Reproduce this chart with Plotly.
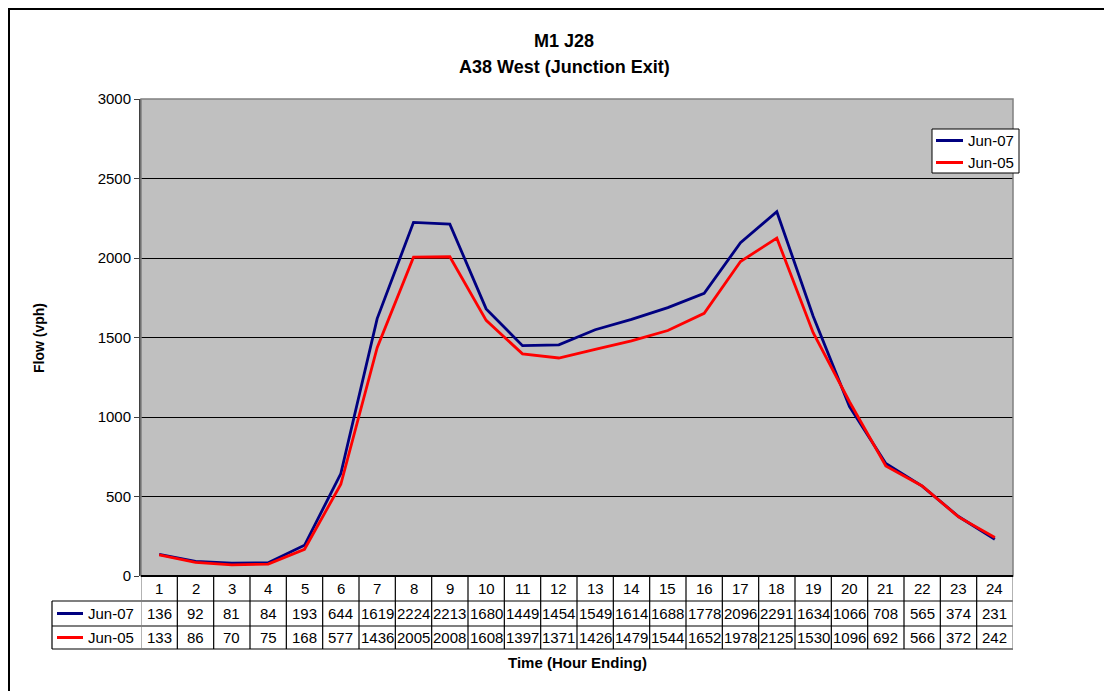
import plotly.graph_objects as go

hours = list(range(1, 25))
jun07 = [136, 92, 81, 84, 193, 644, 1619, 2224, 2213, 1680, 1449, 1454,
         1549, 1614, 1688, 1778, 2096, 2291, 1634, 1066, 708, 565, 374, 231]
jun05 = [133, 86, 70, 75, 168, 577, 1436, 2005, 2008, 1608, 1397, 1371,
         1426, 1479, 1544, 1652, 1978, 2125, 1530, 1096, 692, 566, 372, 242]
series_names = ["Jun-07", "Jun-05"]
series_colors = ["#000080", "#FF0000"]
series_values = [jun07, jun05]

OFF = 8  # page body margin
W, H = 1104, 683
L, R, T, B = 141 - OFF, 1013 - OFF, 99 - OFF, 576 - OFF
PW, PH = R - L, B - T


def px(x):  # page pixel -> paper x
    return (x - OFF - L) / PW


def py(y):  # page pixel -> paper y
    return (B - (y - OFF)) / PH


FONT = "Liberation Sans, Arial, sans-serif"

fig = go.Figure()
for name, col, vals in zip(series_names, series_colors, series_values):
    fig.add_trace(go.Scatter(x=hours, y=vals, mode="lines", name=name,
                             line=dict(color=col, width=2.8), showlegend=False))

shapes = []
annotations = []

# outer chart border
shapes.append(dict(type="line", xref="paper", yref="paper", x0=px(7), x1=px(1120),
                   y0=py(8.5), y1=py(8.5), line=dict(color="black", width=3)))
shapes.append(dict(type="line", xref="paper", yref="paper", x0=px(8.5), x1=px(8.5),
                   y0=py(7), y1=py(700), line=dict(color="black", width=3)))

# plot area border (grey)
shapes.append(dict(type="rect", xref="paper", yref="paper", x0=0, x1=1, y0=0, y1=1,
                   line=dict(color="#808080", width=1.5), layer="above"))

# data table
row_lines = [601, 626, 649]
for yl in row_lines:
    shapes.append(dict(type="line", xref="paper", yref="paper", x0=px(52), x1=1,
                       y0=py(yl), y1=py(yl), line=dict(color="black", width=1.2)))
shapes.append(dict(type="line", xref="paper", yref="paper", x0=px(52), x1=px(52),
                   y0=py(601), y1=py(649), line=dict(color="black", width=1.2)))
for i in range(len(hours) + 1):
    xv = hours[0] - 0.5 + i
    c = "#808080" if i in (0, len(hours)) else "black"
    shapes.append(dict(type="line", xref="x", yref="paper", x0=xv, x1=xv,
                       y0=0, y1=py(649), line=dict(color=c, width=1.2)))

# x-axis zero line
shapes.append(dict(type="line", xref="paper", yref="paper", x0=0, x1=1, y0=0, y1=0,
                   line=dict(color="black", width=2), layer="above"))

TXT = dict(size=15, color="black", family=FONT)
row_centers = [588.5, 613.5, 637.5]
for h in hours:
    annotations.append(dict(x=h, y=py(row_centers[0]), xref="x", yref="paper",
                            text=str(h), showarrow=False, xanchor="center",
                            yanchor="middle", font=TXT))
for r, (name, col, vals) in enumerate(zip(series_names, series_colors, series_values)):
    yc = py(row_centers[r + 1])
    for h, v in zip(hours, vals):
        annotations.append(dict(x=h, y=yc, xref="x", yref="paper", text=str(v),
                                showarrow=False, xanchor="center", yanchor="middle",
                                font=TXT))
    shapes.append(dict(type="line", xref="paper", yref="paper", x0=px(57), x1=px(83),
                       y0=yc, y1=yc, line=dict(color=col, width=3)))
    annotations.append(dict(x=px(86), y=yc, xref="paper", yref="paper", text=name,
                            showarrow=False, xanchor="left", yanchor="middle",
                            font=TXT))

# legend box (drawn to match the original's compact legend)
shapes.append(dict(type="rect", xref="paper", yref="paper", x0=px(932), x1=px(1019),
                   y0=py(173), y1=py(129), fillcolor="white",
                   line=dict(color="black", width=1), layer="above"))
legend_rows = [140.5, 162.5]
for name, col, yr in zip(series_names, series_colors, legend_rows):
    shapes.append(dict(type="line", xref="paper", yref="paper", x0=px(936), x1=px(963),
                       y0=py(yr), y1=py(yr), line=dict(color=col, width=3),
                       layer="above"))
    annotations.append(dict(x=px(966), y=py(yr), xref="paper", yref="paper",
                            text=name, showarrow=False, xanchor="left",
                            yanchor="middle", font=TXT))

# titles
TTL = dict(size=18, color="black", family=FONT)
annotations.append(dict(x=px(564), y=py(41), xref="paper", yref="paper",
                        text="<b>M1 J28</b>", showarrow=False, xanchor="center",
                        yanchor="middle", font=TTL))
annotations.append(dict(x=px(564), y=py(67), xref="paper", yref="paper",
                        text="<b>A38 West (Junction Exit)</b>", showarrow=False,
                        xanchor="center", yanchor="middle", font=TTL))
annotations.append(dict(x=0.5, y=py(662), xref="paper", yref="paper",
                        text="<b>Time (Hour Ending)</b>", showarrow=False,
                        xanchor="center", yanchor="middle",
                        font=dict(size=15, color="black", family=FONT)))
annotations.append(dict(x=px(39), y=py(338), xref="paper", yref="paper",
                        text="<b>Flow (vph)</b>", showarrow=False, textangle=-90,
                        xanchor="center", yanchor="middle",
                        font=dict(size=14, color="black", family=FONT)))

fig.update_layout(
    width=W, height=H,
    margin=dict(l=L, r=W - R, t=T, b=H - B, pad=0),
    paper_bgcolor="white", plot_bgcolor="#C0C0C0",
    font=dict(family=FONT, size=15, color="black"),
    showlegend=False,
    xaxis=dict(range=[0.5, 24.5], showticklabels=False, showgrid=False,
               zeroline=False, ticks="", showline=False, fixedrange=True),
    yaxis=dict(range=[0, 3000], dtick=500, tick0=0, showgrid=True,
               gridcolor="black", gridwidth=1, zeroline=False,
               ticks="outside", ticklen=5, tickcolor="#404040",
               showline=True, linecolor="#404040", linewidth=2,
               tickfont=dict(size=15, family=FONT, color="black")),
    shapes=shapes,
    annotations=annotations,
)

fig.write_html("out.html")
